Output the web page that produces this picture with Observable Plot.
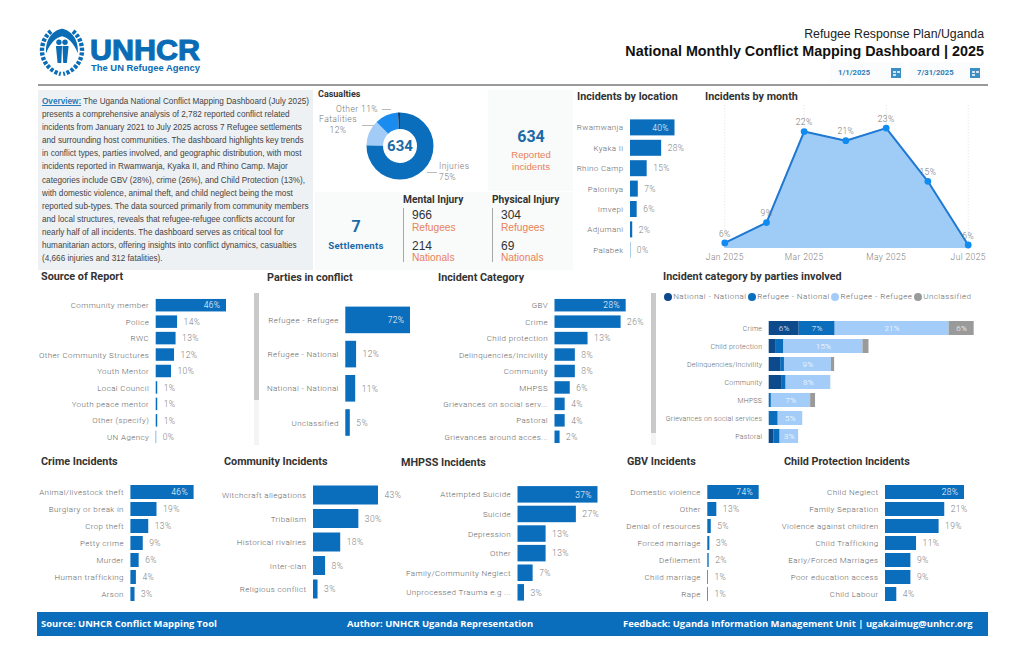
<!DOCTYPE html>
<html><head><meta charset="utf-8">
<script src="https://cdn.jsdelivr.net/npm/d3@7"></script>
<script src="https://cdn.jsdelivr.net/npm/@observablehq/plot@0.6"></script>
<style>
html,body{margin:0;padding:0;background:#fff}
#page{position:relative;width:1024px;height:654px;overflow:hidden;font-family:Roboto,sans-serif;color:#333}
.a{position:absolute;white-space:nowrap}
.title{position:absolute;white-space:nowrap;font:700 10.8px Roboto,sans-serif;color:#333;transform:translateY(-50%)}
svg{background:transparent;max-width:none!important}
</style></head><body><div id="page"></div>
<script>
const blue="#0a6ebd";
const sourceLabels=["Community member","Police","RWC","Other Community Structures","Youth Mentor","Local Council","Youth peace mentor","Other (specify)","UN Agency"];
const sourceValues=[46,14,13,12,10,1,1,1,0.3];
const partyLabels=["Refugee - Refugee","Refugee - National","National - National","Unclassified"];
const partyValues=[72,12,11,5];
const categoryLabels=["GBV","Crime","Child protection","Delinquencies/Incivility","Community","MHPSS","Grievances on social serv...","Pastoral","Grievances around acces..."];
const categoryValues=[28,26,13,8,8,6,4,4,2];
const locationLabels=["Rwamwanja","Kyaka Ii","Rhino Camp","Palorinya","Imvepi","Adjumani","Palabek"];
const locationValues=[40,28,15,7,6,2,0.3];
const crimeLabels=["Animal/livestock theft","Burglary or break in","Crop theft","Petty crime","Murder","Human trafficking","Arson"];
const crimeValues=[46,19,13,9,6,4,3];
const communityLabels=["Witchcraft allegations","Tribalism","Historical rivalries","Inter-clan","Religious conflict"];
const communityValues=[43,30,18,8,3];
const mhpssLabels=["Attempted Suicide","Suicide","Depression","Other","Family/Community Neglect","Unprocessed Trauma e.g ..."];
const mhpssValues=[37,27,13,13,7,3];
const gbvLabels=["Domestic violence","Other","Denial of resources","Forced marriage","Defilement","Child marriage","Rape"];
const gbvValues=[74,13,5,3,2,1,1];
const childLabels=["Child Neglect","Family Separation","Violence against children","Child Trafficking","Early/Forced Marriages","Poor education access","Child Labour"];
const childValues=[28,21,19,11,9,9,4];
const monthNames=["2025-01-01","2025-02-01","2025-03-01","2025-04-01","2025-05-01","2025-06-01","2025-07-01"];
const monthValues=[6.4,9.3,22.3,21,22.8,15.2,6.1];
const monthTicks=["2025-01-01","2025-03-01","2025-05-01","2025-07-01"];
const casualtyLabels=["Injuries","Fatalities","Other","Unknown"];
const casualtyValues=[75.4,12.3,11.3,1];
const casualtyColors=["#0a6ebd","#a3cbf7","#1a8cf0","#12406f"];
const stackCats=["Crime","Child protection","Delinquencies/Incivility","Community","MHPSS","Grievances on social services","Pastoral"];
const stackParties=["National - National","Refugee - National","Refugee - Refugee","Unclassified"];
const stackColors=["#0d4a8c","#0a6ebd","#a3cdf8","#9a9a9a"];
const nationalNational=[5.5,1.3,2.1,2.4,0,0,0.9];
const refugeeNational=[6.6,1.4,0.7,0.7,0.4,1.65,1.1];
const refugeeRefugee=[20.9,14.5,8.6,8.2,7.2,4.5,3.4];
const unclassified=[4.6,1.1,0.6,0,0.9,0,0];
const stackLabels=[["6%","","","","","",""],["7%","","","","","",""],["21%","15%","9%","8%","7%","5%","3%"],["6%","","","","","",""]];
const overviewLines=["The Uganda National Conflict Mapping Dashboard (July 2025)",
"presents a comprehensive analysis of 2,782 reported conflict related",
"incidents from January 2021 to July 2025 across 7 Refugee settlements",
"and surrounding host communities. The dashboard highlights key trends",
"in conflict types, parties involved, and geographic distribution, with most",
"incidents reported in Rwamwanja, Kyaka II, and Rhino Camp. Major",
"categories include GBV (28%), crime (26%), and Child Protection (13%),",
"with domestic violence, animal theft, and child neglect being the most",
"reported sub-types. The data sourced primarily from community members",
"and local structures, reveals that refugee-refugee conflicts account for",
"nearly half of all incidents. The dashboard serves as critical tool for",
"humanitarian actors, offering insights into conflict dynamics, casualties",
"(4,666 injuries and 312 fatalities)."];

const page=document.getElementById("page");
function put(x,y,html,css=""){const d=document.createElement("div");d.className="a";d.style.cssText=`left:${x}px;top:${y}px;${css}`;d.innerHTML=html;page.appendChild(d);return d;}
function rect(x,y,w,h,c){return put(x,y,"",`width:${w}px;height:${h}px;background:${c}`);}
function title(x,y,t,size){const d=document.createElement("div");d.className="title";d.textContent=t;d.style.left=x+"px";d.style.top=y+"px";if(size)d.style.fontSize=size+"px";page.appendChild(d);}
function centerText(cx,cy,t,css){return put(cx,cy,t,`transform:translate(-50%,-50%);${css}`);}

const plotStyle={background:"transparent",fontFamily:"Roboto,sans-serif",fontSize:"8px",fontWeight:300,letterSpacing:"0.38px",color:"#666",overflow:"visible"};

function hbar({labels,values,left,axisX,barEnd,c0,step,barH,right=34,maxOutside=false}){
  const n=labels.length,p=1-barH/step,H=step*(n+p),top=c0-step*(1+p)/2;
  const rows=labels.map((l,i)=>({l,v:values[i]}));
  const max=d3.max(values);
  const isInside=d=>d.v===max&&!maxOutside;
  const fmt=d=>Math.round(d.v)+"%";
  const ml=axisX-left;
  const width=ml+(barEnd-axisX)+right;
  const chart=Plot.plot({width,height:H,marginLeft:ml,marginRight:right,marginTop:0,marginBottom:0,style:plotStyle,
    x:{domain:[0,max],axis:null},
    y:{domain:labels,padding:p,round:false,label:null},
    marks:[
      Plot.axisY({tickSize:0,tickPadding:7,label:null}),
      Plot.barX(rows,{x:"v",y:"l",fill:blue}),
      Plot.text(rows.filter(d=>!isInside(d)),{x:"v",y:"l",text:fmt,dx:6,textAnchor:"start",fill:"#808080",fontSize:8.5}),
      Plot.text(rows.filter(isInside),{x:"v",y:"l",text:fmt,dx:-6,textAnchor:"end",fill:"#fff",fontSize:8.5})
    ]});
  const w=put(left,top,"",`width:${width}px;height:${H}px`);
  w.appendChild(chart);
}

/* ---------- header ---------- */
put(38,30,`<svg width="170" height="46" viewBox="0 0 170 46" style="display:block;overflow:visible">
<g transform="translate(24,22) scale(1.22) translate(-23,-23)">
<g fill="none" stroke="#0a6cb5">
<path d="M14 6 A20 20 0 0 0 22 41" stroke-width="3.6" stroke-dasharray="2.6 1.3"/>
<path d="M32 6 A20 20 0 0 1 24 41" stroke-width="3.6" stroke-dasharray="2.6 1.3"/>
<path d="M10 24 C9 11 17 5 23 4 C29 5 37 11 36 24 C33 16 28 11 23 10 C18 11 13 16 10 24 Z" fill="#0a6cb5" stroke="none"/>
</g>
<g fill="#0a6cb5"><circle cx="20.5" cy="15" r="2.2"/><circle cx="25.5" cy="15" r="2.2"/>
<path d="M18 18 h5 l-.6 14 h-3 Z M23.4 18 h5 l-1.4 14 h-3 Z"/></g></g>
<text x="52" y="30" font-family="Liberation Sans" font-weight="700" font-size="30" textLength="110" lengthAdjust="spacingAndGlyphs" fill="#0a6cb5" stroke="#0a6cb5" stroke-width="1.1">UNHCR</text>
<text x="53" y="41" font-family="Liberation Sans" font-weight="700" font-size="9.6" textLength="109" lengthAdjust="spacingAndGlyphs" fill="#0a6cb5">The UN Refugee Agency</text>
</svg>`);
put(0,27,"Refugee Response Plan/Uganda","width:984px;text-align:right;font:12.3px 'Liberation Sans';color:#222");
put(0,42.5,"National Monthly Conflict Mapping Dashboard | 2025","width:984px;text-align:right;font:700 14.35px 'Liberation Sans';color:#111");
rect(830,62,74,20,"#fbfcfd");rect(909,62,75,20,"#fbfcfd");
put(838,67.5,"1/1/2025","font:700 7.7px Roboto;color:#2c7cb8");
put(917,67.5,"7/31/2025","font:700 7.7px Roboto;color:#2c7cb8");
for(const x of [891,970]){rect(x,67.5,10,10,"#3c8fc4");rect(x+1.5,71,3,2,"#cfe3f0");rect(x+5.5,71,3,2,"#cfe3f0");rect(x+1.5,74,3,2,"#cfe3f0");}
rect(38,84,950,1.5,"#9a9a9a");

/* ---------- overview ---------- */
rect(38,90,275,180,"#eef1f3");
put(42,95,`<span style="color:#2a7ab5;font-weight:700;text-decoration:underline">Overview:</span> `+overviewLines.join("<br>"),"font:8.2px/13.1px 'Liberation Sans';color:#444");

/* ---------- casualties donut ---------- */
title(318,94,"Casualties",9);
const pieData=d3.pie().sort(null).value(d=>d)(casualtyValues);
const donut=Plot.plot({width:80,height:80,margin:0,style:{background:"transparent"},x:{axis:null},y:{axis:null},
  marks:[(index,scales,values,dims)=>{
    const g=d3.create("svg:g").attr("transform",`translate(${dims.width/2},${dims.height/2})`);
    const arc=d3.arc().innerRadius(17).outerRadius(33.5);
    g.selectAll("path").data(pieData).join("path").attr("d",arc).attr("fill",(d,i)=>casualtyColors[i]);
    return g.node();
  }]});
put(360,106,"","width:80px;height:80px").appendChild(donut);
centerText(400,146,"634","font:700 15px Roboto;color:#1b6aa8");
const annoCss="font:300 8.6px/10.5px Roboto;color:#777;letter-spacing:.38px;";
put(336,104,"Other 11%",annoCss);rect(382,109,9,.8,"#bbb");
put(318,114,"Fatalities<br>12%",annoCss+"width:40px;text-align:center");rect(362,124.5,12,.8,"#bbb");
put(439,161,"Injuries<br>75%",annoCss);rect(427,172,10,.8,"#bbb");

/* ---------- KPI boxes ---------- */
rect(488,90,85,101,"#f9fafa");
centerText(531,136,"634","font:700 16px Roboto;color:#1b6aa8");
centerText(531,161,"Reported<br>incidents","font:9.6px/12px 'Liberation Sans';color:#e8825c;text-align:center");
rect(315,192,88,78,"#f9fafa");rect(403,192,170,78,"#f9fafa");
centerText(356,226,"7","font:700 16px Roboto;color:#1b6aa8");
centerText(356,245,"Settlements","font:700 9.6px Roboto;color:#1b6aa8;letter-spacing:.3px");
title(403,199,"Mental Injury",10.2);title(492,199,"Physical Injury",10.2);
rect(403,208,1.2,54,"#a8a8a8");rect(492,208,1.2,54,"#a8a8a8");
const kpi=(x,y,t,or)=>put(x,y,t,or?"font:10.2px 'Liberation Sans';color:#e8825c":"font:12px 'Liberation Sans';color:#333");
kpi(412,208,"966");kpi(412,221.5,"Refugees",1);kpi(412,238.5,"214");kpi(412,252,"Nationals",1);
kpi(501,208,"304");kpi(501,221.5,"Refugees",1);kpi(501,238.5,"69");kpi(501,252,"Nationals",1);

/* ---------- bar panels ---------- */
title(577,96,"Incidents by location");
hbar({labels:locationLabels,values:locationValues,left:570,axisX:630,barEnd:674.5,c0:127.7,step:20.4,barH:16,right:30});
title(705,96,"Incidents by month");
title(41,276,"Source of Report");
hbar({labels:sourceLabels,values:sourceValues,left:40,axisX:155.7,barEnd:226,c0:305.5,step:16.45,barH:12.5});
rect(254,293,5,107,"#c9c9c9");rect(254,400,5,45,"#f4f4f4");
title(267,277,"Parties in conflict");
hbar({labels:partyLabels,values:partyValues,left:262,axisX:345.3,barEnd:410,c0:320,step:34.2,barH:26.6});
title(438,277,"Incident Category");
hbar({labels:categoryLabels,values:categoryValues,left:440,axisX:554.5,barEnd:625.7,c0:305.5,step:16.45,barH:12.5});
rect(651,293,5,140,"#c9c9c9");rect(651,433,5,12,"#f4f4f4");
title(41,461,"Crime Incidents");
hbar({labels:crimeLabels,values:crimeValues,left:36,axisX:130.4,barEnd:193.6,c0:491.5,step:17,barH:14});
title(224,461,"Community Incidents");
hbar({labels:communityLabels,values:communityValues,left:220,axisX:313,barEnd:378,c0:495,step:23.5,barH:19,maxOutside:true});
title(401,462,"MHPSS Incidents");
hbar({labels:mhpssLabels,values:mhpssValues,left:405,axisX:517.5,barEnd:597.5,c0:494,step:19.6,barH:16.5});
title(627,461,"GBV Incidents");
hbar({labels:gbvLabels,values:gbvValues,left:625,axisX:707.3,barEnd:758.7,c0:491.7,step:17,barH:14});
title(784,461,"Child Protection Incidents");
hbar({labels:childLabels,values:childValues,left:780,axisX:885,barEnd:964,c0:491.7,step:17,barH:14});

/* ---------- monthly area ---------- */
const months=monthNames.map((m,i)=>({m:new Date(m+"T00:00Z"),v:monthValues[i]}));
const tickDates=monthTicks.map(m=>new Date(m+"T00:00Z"));
const yMin=5.6;
const monthly=Plot.plot({width:300,height:165,marginLeft:24.3,marginRight:32.3,marginTop:5.2,marginBottom:17,style:{...plotStyle,fontSize:"8.5px"},
  x:{type:"utc",domain:[tickDates[0],tickDates[3]],label:null},
  y:{domain:[yMin,26],axis:null},
  marks:[
    Plot.axisX({ticks:tickDates,tickFormat:d3.utcFormat("%b %Y"),tickSize:0,tickPadding:5,label:null,fill:"#808080"}),
    Plot.ruleX(tickDates,{stroke:"#d8d8d8",strokeDasharray:"1,2",strokeWidth:0.8}),
    Plot.areaY(months,{x:"m",y1:yMin,y2:"v",fill:"#9fcbf7"}),
    Plot.line(months,{x:"m",y:"v",stroke:"#1f78d1",strokeWidth:2}),
    Plot.dot(months,{x:"m",y:"v",r:3.4,fill:"#0f8bf2"}),
    Plot.text(months,{x:"m",y:"v",text:d=>Math.round(d.v)+"%",dy:-9,fill:"#777",fontSize:8.5})
  ]});
put(700,100,"","width:300px;height:165px").appendChild(monthly);

/* ---------- stacked bars ---------- */
title(663,276,"Incident category by parties involved");
const legendX=[667.7,751.7,835,917.7];
stackParties.forEach((s,i)=>{
  put(legendX[i]-4,293.3,"",`width:8px;height:8px;border-radius:50%;background:${stackColors[i]}`);
  put(legendX[i]+5.5,292,s,"font:300 8px Roboto;color:#666;letter-spacing:.45px");
});
const stackSeries=[nationalNational,refugeeNational,refugeeRefugee,unclassified];
const stackRows=stackParties.flatMap((p,k)=>stackCats.map((c,i)=>({c,p,v:stackSeries[k][i],t:stackLabels[k][i]})));
(function(){
  const left=660,axisX=768.7,step=18,barH=14,n=stackCats.length,pad=1-barH/step,H=step*(n+pad),top=328-step*(1+pad)/2;
  const ml=axisX-left,total=37.6,width=ml+205+10;
  const chart=Plot.plot({width,height:H,marginLeft:ml,marginRight:10,marginTop:0,marginBottom:0,style:{...plotStyle,fontSize:"7px",letterSpacing:"0.22px"},
    x:{domain:[0,total],axis:null},
    y:{domain:stackCats,padding:pad,round:false,label:null},
    color:{domain:stackParties,range:stackColors},
    marks:[
      Plot.axisY({tickSize:0,tickPadding:7,label:null}),
      Plot.barX(stackRows,{x:"v",y:"c",fill:"p",order:stackParties}),
      Plot.text(stackRows,Plot.stackX({x:"v",y:"c",z:"p",order:stackParties,text:"t",fill:"#fff",fontSize:8}))
    ]});
  put(left,top,"",`width:${width}px;height:${H}px`).appendChild(chart);
})();

/* ---------- footer ---------- */
rect(37,612,951,24,"#0a6ebd");
const footCss="font:700 9.43px 'Open Sans';color:#fff;";
put(41,617,"Source: UNHCR Conflict Mapping Tool",footCss);
put(347,617,"Author: UNHCR Uganda Representation",footCss);
put(623,617,"Feedback:  Uganda Information Management Unit | ugakaimug@unhcr.org",footCss);
</script></body></html>
